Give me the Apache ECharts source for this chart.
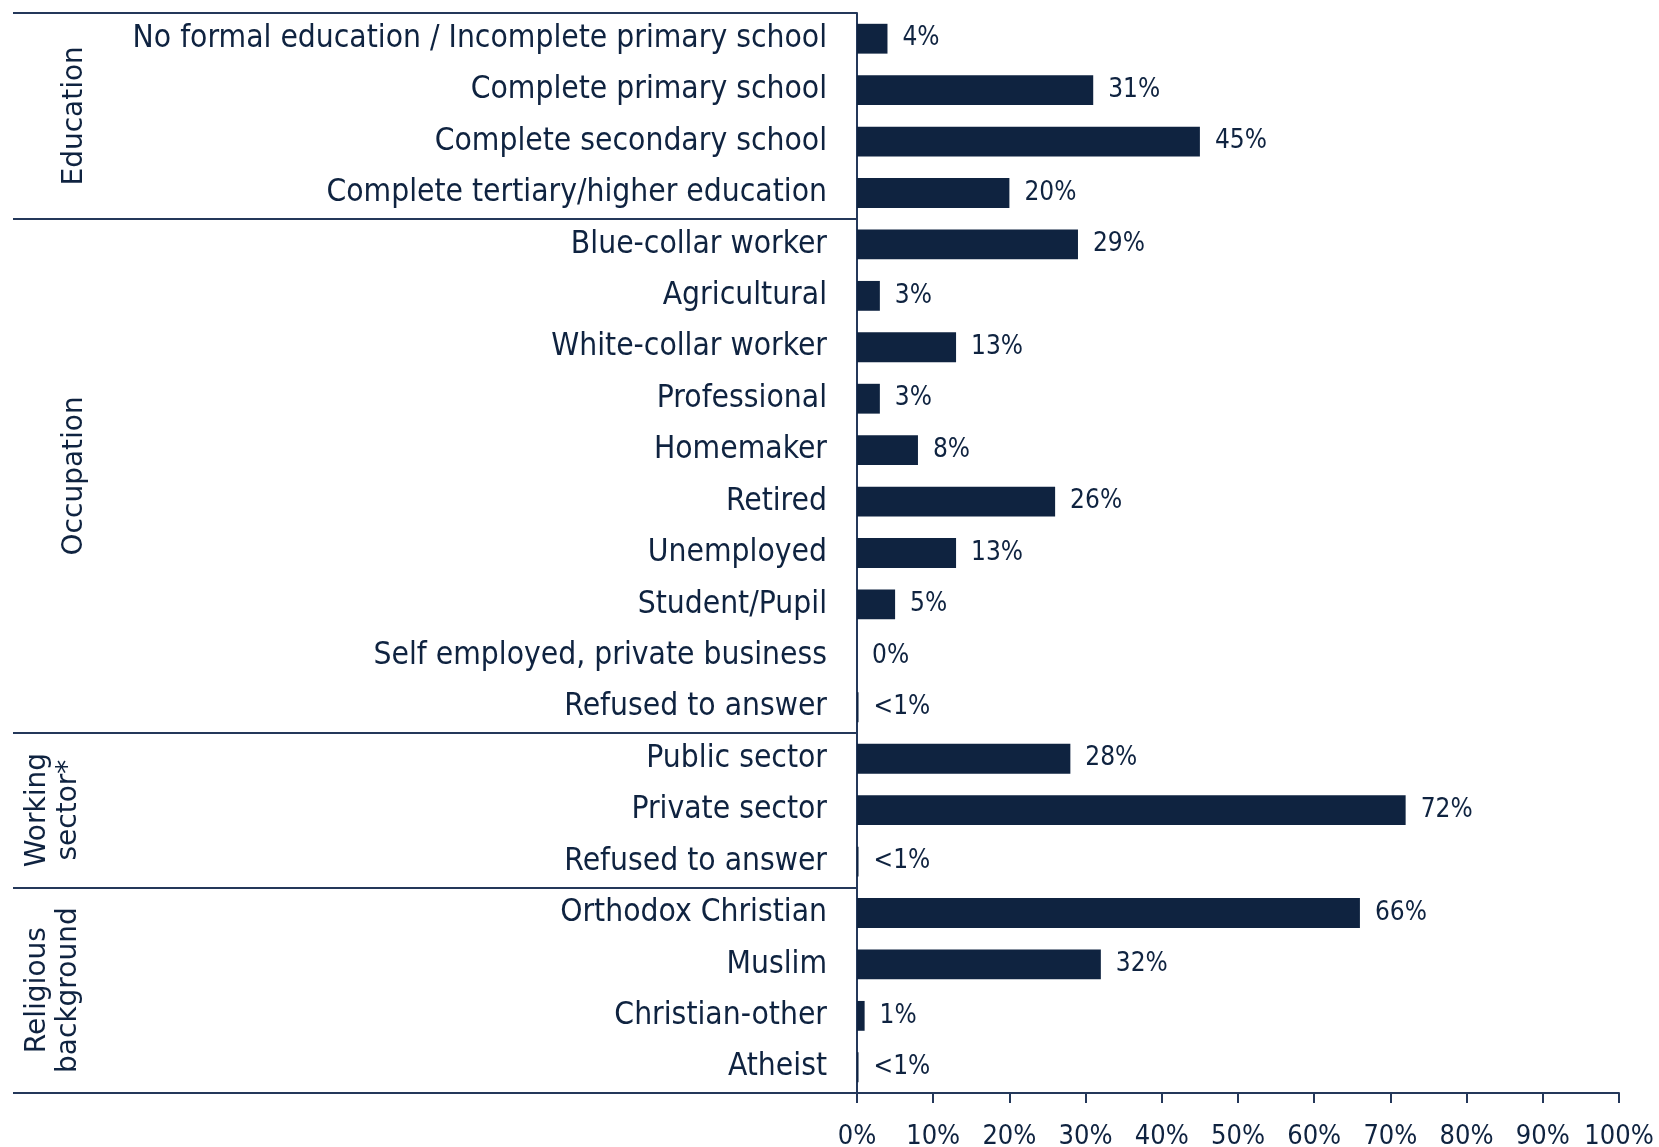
<!DOCTYPE html>
<html>
<head>
<meta charset="utf-8">
<script src="https://cdn.jsdelivr.net/npm/echarts@6/dist/echarts.min.js"></script>
<style>
html,body{margin:0;padding:0;background:#fff;}
#c{width:1659px;height:1147px;}
</style>
</head>
<body>
<div id="c"></div>
<script>
// ---- data ----
const educationCats = ['No formal education / Incomplete primary school','Complete primary school','Complete secondary school','Complete tertiary/higher education'];
const educationVals = [4, 31, 45, 20];
const occupationCats = ['Blue-collar worker','Agricultural','White-collar worker','Professional','Homemaker','Retired','Unemployed','Student/Pupil','Self employed, private business','Refused to answer'];
const occupationVals = [29, 3, 13, 3, 8, 26, 13, 5, 0, 0.2];
const sectorCats = ['Public sector','Private sector','Refused to answer'];
const sectorVals = [28, 72, 0.2];
const religionCats = ['Orthodox Christian','Muslim','Christian-other','Atheist'];
const religionVals = [66, 32, 1, 0.2];
const groupTitles = ['Education','Occupation','Working\nsector*','Religious\nbackground'];
const xTicks = [0, 10, 20, 30, 40, 50, 60, 70, 80, 90, 100];

const groups = [
  {title: groupTitles[0], cats: educationCats, vals: educationVals},
  {title: groupTitles[1], cats: occupationCats, vals: occupationVals},
  {title: groupTitles[2], cats: sectorCats, vals: sectorVals},
  {title: groupTitles[3], cats: religionCats, vals: religionVals}
];

const categories = [];
const values = [];
const groupStarts = [];
groups.forEach(g => {
  groupStarts.push(categories.length);
  g.cats.forEach((c, i) => { categories.push(c); values.push(g.vals[i]); });
});

const NAVY = '#0F2340';
const LINE = '#24385A';
const NUM_FONT = '"DejaVu Sans Condensed", sans-serif';
const GRID_LEFT = 857, GRID_TOP = 13, GRID_RIGHT = 40, GRID_BOTTOM = 54, LEFT_EDGE = 13;

const chart = echarts.init(document.getElementById('c'), null, {renderer: 'canvas'});

const option = {
  animation: false,
  backgroundColor: '#ffffff',
  grid: {
    left: GRID_LEFT, top: GRID_TOP, right: GRID_RIGHT, bottom: GRID_BOTTOM,
    containLabel: false,
    outerBoundsMode: 'none'
  },
  xAxis: {
    type: 'value',
    min: xTicks[0],
    max: xTicks[xTicks.length - 1],
    interval: xTicks[1] - xTicks[0],
    axisLine: {show: true, lineStyle: {color: LINE, width: 2}},
    axisTick: {show: true, length: 10, lineStyle: {color: LINE, width: 2}},
    splitLine: {show: false},
    axisLabel: {
      margin: 30,
      color: NAVY,
      fontFamily: NUM_FONT,
      fontSize: 27,
      formatter: v => v + '%'
    }
  },
  yAxis: {
    type: 'category',
    inverse: true,
    data: categories,
    axisLine: {show: true, lineStyle: {color: LINE, width: 2}},
    axisTick: {
      show: true,
      alignWithLabel: false,
      length: GRID_LEFT - LEFT_EDGE,
      interval: (idx) => groupStarts.indexOf(idx) >= 0,
      lineStyle: {color: LINE, width: 2}
    },
    axisLabel: {
      margin: 30,
      color: NAVY,
      fontFamily: 'DejaVu Sans Condensed',
      fontSize: 31.5,
      interval: 0
    },
    splitLine: {show: false}
  },
  series: [{
    type: 'bar',
    data: values,
    barCategoryGap: '42%',
    itemStyle: {color: NAVY},
    label: {
      show: true,
      position: 'right',
      distance: 15,
      color: NAVY,
      fontFamily: NUM_FONT,
      fontSize: 26,
      formatter: p => (p.value > 0 && p.value < 1) ? '<1%' : Math.round(p.value) + '%'
    }
  }]
};
chart.setOption(option);

// group titles, placed at the centre of each group's band range
const graphics = groups.map((g, gi) => {
  const start = groupStarts[gi];
  const end = start + g.cats.length - 1;
  const y0 = chart.convertToPixel({yAxisIndex: 0}, start);
  const y1 = chart.convertToPixel({yAxisIndex: 0}, end);
  const cy = (y0 + y1) / 2;
  const single = g.title.indexOf('\n') < 0;
  return {
    type: 'text',
    x: single ? 75 : 53,
    y: cy,
    rotation: Math.PI / 2,
    style: {
      text: g.title,
      fill: NAVY,
      font: '28px "DejaVu Sans"',
      lineHeight: 31,
      align: 'center',
      verticalAlign: 'middle'
    }
  };
});
chart.setOption({graphic: graphics});
</script>
</body>
</html>
